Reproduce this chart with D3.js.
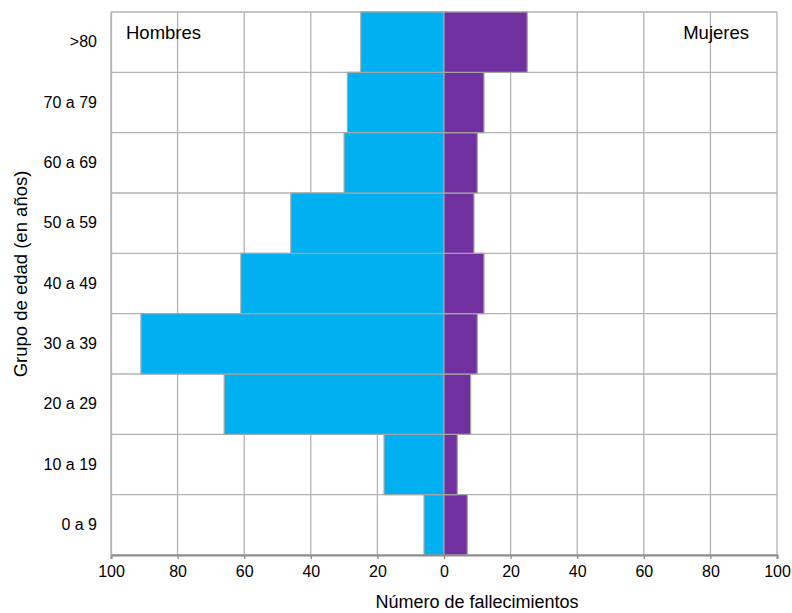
<!DOCTYPE html>
<html><head><meta charset="utf-8">
<script src="https://cdn.jsdelivr.net/npm/d3@7/dist/d3.min.js"></script>
<style>body{margin:0;background:#fff}text{font-family:"Liberation Sans",Arial,sans-serif;fill:#000}</style>
</head><body><svg id="c" width="792" height="613"></svg>
<script>
const categories = ["0 a 9","10 a 19","20 a 29","30 a 39","40 a 49","50 a 59","60 a 69","70 a 79",">80"];
const hombres = [6, 18, 66, 91, 61, 46, 30, 29, 25];
const mujeres = [7, 4, 8, 10, 12, 9, 10, 12, 25];
const xTicks = [-100,-80,-60,-40,-20,0,20,40,60,80,100];

const svg = d3.select("#c");
const L = 111, R = 777, T = 12, B = 555;
const x = d3.scaleLinear().domain([-100,100]).range([L,R]);
const y = d3.scaleBand().domain(categories.slice().reverse()).range([T,B]).padding(0);
const grid = "#b3b3b3";

// vertical grid
svg.append("g").selectAll("line").data(xTicks).join("line")
  .attr("x1", d=>x(d)).attr("x2", d=>x(d)).attr("y1", T).attr("y2", B)
  .attr("stroke", grid).attr("stroke-width", 1.3);
// horizontal grid (band boundaries)
const bounds = categories.map(c=>y(c)).concat([B]);
svg.append("g").selectAll("line").data(bounds).join("line")
  .attr("x1", L).attr("x2", R).attr("y1", d=>d).attr("y2", d=>d)
  .attr("stroke", grid).attr("stroke-width", 1.3);

// bars
svg.append("g").selectAll("rect").data(categories).join("rect")
  .attr("x", (c,i)=>x(-hombres[i])).attr("width", (c,i)=>x(0)-x(-hombres[i]))
  .attr("y", c=>y(c)).attr("height", y.bandwidth())
  .attr("fill", "#00B0F0").attr("stroke", "#a6a6a6").attr("stroke-width", 1.2);
svg.append("g").selectAll("rect").data(categories).join("rect")
  .attr("x", x(0)).attr("width", (c,i)=>x(mujeres[i])-x(0))
  .attr("y", c=>y(c)).attr("height", y.bandwidth())
  .attr("fill", "#7030A0").attr("stroke", "#a6a6a6").attr("stroke-width", 1.2);

// x axis
const xa = d3.axisBottom(x).tickValues(xTicks).tickFormat(d=>Math.abs(d)).tickSize(4).tickPadding(7);
const gx = svg.append("g").attr("transform", `translate(0,${B})`).call(xa);
gx.select(".domain").attr("stroke", "#8c8c8c").attr("stroke-width", 2);
gx.selectAll(".tick line").attr("stroke", "#8c8c8c").attr("stroke-width", 1.3);
gx.selectAll("text").style("font-size", "16px").attr("fill", "#000");

// y labels
const ya = d3.axisLeft(y).tickSize(0).tickPadding(14);
const gy = svg.append("g").attr("transform", `translate(${L},0)`).call(ya);
gy.select(".domain").attr("stroke", grid).attr("stroke-width", 1.3);
gy.selectAll("text").style("font-size", "16px").attr("fill", "#000");

// labels
svg.append("text").attr("x", 126).attr("y", 39).style("font-size", "18.5px").text("Hombres");
svg.append("text").attr("x", 749).attr("y", 39).attr("text-anchor","end").style("font-size", "18.5px").text("Mujeres");
svg.append("text").attr("x", 477).attr("y", 608).attr("text-anchor","middle").style("font-size", "18px").text("Número de fallecimientos");
svg.append("text").attr("transform", "translate(27,274) rotate(-90)").attr("text-anchor","middle").style("font-size", "18.5px").text("Grupo de edad (en años)");
</script></body></html>
